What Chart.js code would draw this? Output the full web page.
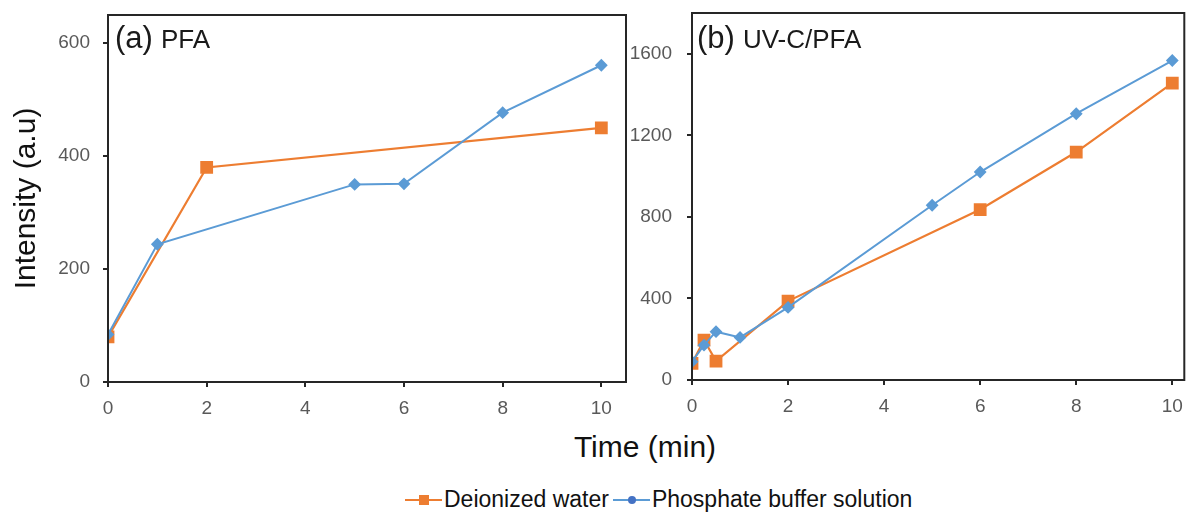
<!DOCTYPE html>
<html>
<head>
<meta charset="utf-8">
<script src="https://cdn.jsdelivr.net/npm/chart.js@4.4.1/dist/chart.umd.min.js"></script>
<style>
  body { margin: 0; background: #fff; width: 1187px; height: 515px; position: relative; overflow: hidden;
         font-family: "Liberation Sans", Arial, sans-serif; }
  #wrapA { position: absolute; left: 0; top: 0; width: 640px; height: 420px; }
  #wrapB { position: absolute; left: 628px; top: 0; width: 566px; height: 420px; }
  #xTitle { position: absolute; left: 495px; width: 300px; top: 430px; text-align: center; font-size: 30px; color: #111; }
  #legend { position: absolute; left: 405px; top: 486px; display: flex; align-items: center; font-size: 23px; color: #111; }
  .key { position: relative; display: inline-block; width: 37px; height: 26px; }
  .key .ln { position: absolute; left: 0; right: 0; top: 12px; height: 2.5px; }
  .key .mk { position: absolute; }
  .txt { margin: 0 4px 0 2px; }
</style>
</head>
<body>
<div id="wrapA"><canvas id="chartA"></canvas></div>
<div id="wrapB"><canvas id="chartB"></canvas></div>
<div id="xTitle">Time (min)</div>
<div id="legend">
  <span class="key"><span class="ln" style="background:#ED7D31"></span><span class="mk" style="left:14px;top:8px;width:10px;height:10px;background:#ED7D31"></span></span><span class="txt" id="legWater"></span>
  <span class="key"><span class="ln" style="background:#5B9BD5"></span><span class="mk" style="left:15px;top:9px;width:8px;height:8px;border-radius:50%;background:#4472C4"></span></span><span class="txt" id="legBuffer"></span>
</div>
<script>
// series names
const seriesNames = ["Deionized water", "Phosphate buffer solution"];

// panel (a) PFA
const pfaWaterTime = [0, 2, 10];
const pfaWater = [80, 380, 450];
const pfaBufferTime = [0, 1, 5, 6, 8, 10];
const pfaBuffer = [84, 244, 350, 351, 477, 561];

// panel (b) UV-C/PFA
const uvWaterTime = [0, 0.25, 0.5, 2, 6, 8, 10];
const uvWater = [82, 196, 93, 387, 836, 1118, 1456];
const uvBufferTime = [0, 0.25, 0.5, 1, 2, 5, 6, 8, 10];
const uvBuffer = [90, 171, 237, 209, 356, 857, 1020, 1306, 1567];

// tick labels
const xTicks = [0, 2, 4, 6, 8, 10];
const pfaYTicks = [0, 200, 400, 600];
const uvYTicks = [0, 400, 800, 1200, 1600];

const ORANGE = "#ED7D31";
const BLUE = "#5B9BD5";

document.getElementById("legWater").textContent = seriesNames[0];
document.getElementById("legBuffer").textContent = seriesNames[1];

function pairs(xs, ys) {
    return xs.map((x, i) => ({ x: x, y: ys[i] }));
}

// box round the plot area and the (a)/(b) label in its corner
const panelFrame = {
    id: "panelFrame",
    afterDraw(chart, args, opts) {
        const ctx = chart.ctx;
        const a = chart.chartArea;
        ctx.save();
        ctx.strokeStyle = "#262626";
        ctx.lineWidth = 2;
        ctx.strokeRect(a.left, a.top, a.right - a.left, a.bottom - a.top);
        ctx.fillStyle = "#1a1a1a";
        ctx.textBaseline = "alphabetic";
        ctx.font = '31px "Liberation Sans"';
        ctx.fillText(opts.tag, a.left + opts.dx, a.top + opts.dy);
        const w = ctx.measureText(opts.tag).width;
        ctx.font = '26px "Liberation Sans"';
        ctx.fillText(opts.name, a.left + opts.dx + w + 8, a.top + opts.dy);
        ctx.restore();
    }
};

function makePanel(id, cfg) {
    const ctx = document.getElementById(id).getContext("2d");
    return new Chart(ctx, {
        type: "line",
        data: {
            datasets: [{
                label: seriesNames[1],
                data: pairs(cfg.bufTime, cfg.buf),
                borderColor: BLUE,
                backgroundColor: BLUE,
                borderWidth: 2,
                pointStyle: "rectRot",
                pointRadius: 5,
                order: 0
            }, {
                label: seriesNames[0],
                data: pairs(cfg.waterTime, cfg.water),
                borderColor: ORANGE,
                backgroundColor: ORANGE,
                borderWidth: 2.2,
                pointStyle: "rect",
                pointRadius: 7.5,
                order: 1
            }]
        },
        options: {
            responsive: true,
            maintainAspectRatio: false,
            animation: false,
            layout: { padding: cfg.padding },
            plugins: {
                legend: { display: false },
                tooltip: { enabled: false },
                panelFrame: { tag: cfg.tag, name: cfg.name, dx: cfg.dx, dy: cfg.dy }
            },
            scales: {
                x: {
                    type: "linear",
                    min: 0,
                    max: cfg.xMax,
                    afterBuildTicks: s => { s.ticks = xTicks.map(v => ({ value: v })); },
                    afterFit: s => { s.height = cfg.xHeight; },
                    grid: { drawOnChartArea: false, drawTicks: true, tickLength: 5, color: "#262626", lineWidth: 2 },
                    border: { color: "#262626", width: 2 },
                    ticks: { color: "#595959", font: { family: "Liberation Sans", size: 19 }, padding: 10,
                             callback: v => String(v) }
                },
                y: {
                    min: 0,
                    max: cfg.yMax,
                    afterBuildTicks: s => { s.ticks = cfg.yTicks.map(v => ({ value: v })); },
                    afterFit: s => { s.width = cfg.yWidth; s.paddingTop = 0; s.paddingBottom = 0; },
                    grid: { drawOnChartArea: false, drawTicks: true, tickLength: 5, color: "#262626", lineWidth: 2 },
                    border: { color: "#262626", width: 2 },
                    ticks: { color: "#595959", font: { family: "Liberation Sans", size: 19 }, padding: cfg.yPad,
                             callback: v => String(v) },
                    title: {
                        display: cfg.yTitle !== "",
                        text: cfg.yTitle,
                        color: "#111",
                        font: { family: "Liberation Sans", size: 30 },
                        padding: { top: 9, bottom: 0 }
                    }
                }
            }
        },
        plugins: [panelFrame]
    });
}

makePanel("chartA", {
    waterTime: pfaWaterTime, water: pfaWater,
    bufTime: pfaBufferTime, buf: pfaBuffer,
    xMax: 10.5, yMax: 650, yTicks: pfaYTicks,
    yWidth: 108, xHeight: 38, yPad: 13,
    padding: { left: 0, right: 14, top: 15, bottom: 0 },
    yTitle: "Intensity (a.u)",
    tag: "(a)", name: "PFA", dx: 7, dy: 33
});

makePanel("chartB", {
    waterTime: uvWaterTime, water: uvWater,
    bufTime: uvBufferTime, buf: uvBuffer,
    xMax: 10.25, yMax: 1800, yTicks: uvYTicks,
    yWidth: 64, xHeight: 40, yPad: 15,
    padding: { left: 0, right: 3, top: 13, bottom: 0 },
    yTitle: "",
    tag: "(b)", name: "UV-C/PFA", dx: 5, dy: 35
});
</script>
</body>
</html>
